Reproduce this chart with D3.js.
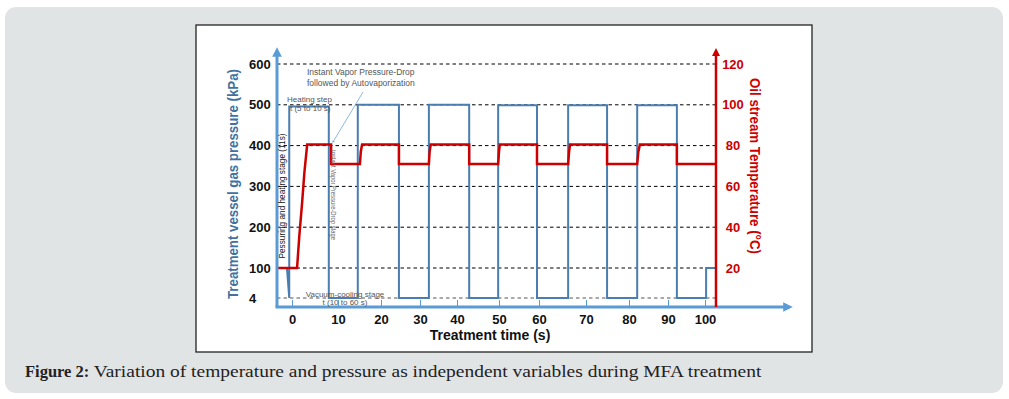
<!DOCTYPE html>
<html>
<head>
<meta charset="utf-8">
<script src="https://cdn.jsdelivr.net/npm/d3@7"></script>
<style>
  body { margin: 0; background: #fff; }
  text { font-family: "Liberation Sans", Arial, sans-serif; }
</style>
</head>
<body>
<div id="container"></div>
<script>
// Tick labels
const xTicks = [0, 10, 20, 30, 40, 50, 60, 70, 80, 90, 100];
const pTicks = [4, 100, 200, 300, 400, 500, 600];
const tTicks = [20, 40, 60, 80, 100, 120];

// Pressure (kPa) vs time (s)
const pressTime = [-3.3, -1.1, -0.6, -0.6, 8.0, 8.0, 14.6, 14.6, 24.6, 24.6, 32.4, 32.4, 42.9, 42.9,
    49.8, 49.8, 59.5, 59.5, 66.2, 66.2, 74.9, 74.9, 82.1, 82.1, 92.4, 92.4, 100.3, 100.3, 103.0];
const pressVal = [100, 100, 4, 496, 496, 4, 4, 500, 500, 4, 4, 500, 500, 4,
    4, 499, 499, 4, 4, 499, 499, 4, 4, 499, 499, 4, 4, 100, 100];

// Oil stream temperature (°C) vs time (s)
const tempTime = [-3.3, 1.1, 1.6, 2.2, 2.7, 3.3, 8.5, 8.5, 15.1, 15.3, 15.6, 24.6, 24.6,
    32.4, 32.6, 32.9, 42.9, 42.9, 49.8, 50.0, 50.2, 59.5, 59.5, 66.2, 66.4, 66.6, 74.9, 74.9,
    82.1, 82.4, 82.8, 92.4, 92.4, 103.0];
const tempVal = [20, 20, 36, 52, 67, 80.5, 80.5, 71, 71, 77, 80.5, 80.5, 71,
    71, 77, 80.5, 80.5, 71, 71, 77, 80.5, 80.5, 71, 71, 77, 80.5, 80.5, 71,
    71, 77, 80.5, 80.5, 71, 71];

const width = 1009, height = 399;
const blue = "#4a7db0", axisBlue = "#5b9bd5", red = "#cc0000";

const svg = d3.select("#container")
    .append("svg")
    .attr("width", width)
    .attr("height", height);

// Grey panel and chart frame
svg.append("rect")
    .attr("x", 5).attr("y", 7).attr("width", 998).attr("height", 386)
    .attr("rx", 11).attr("fill", "#e1e4e5");
svg.append("rect")
    .attr("x", 196).attr("y", 25).attr("width", 616).attr("height", 327)
    .attr("fill", "#fff").attr("stroke", "#222").attr("stroke-width", 1.3);

// Scales (the drawing's axes are not evenly spaced)
const x = d3.scaleLinear()
    .domain(xTicks)
    .range([292, 338, 381, 420, 457, 499, 539, 586, 629, 668, 705]);
const yP = d3.scaleLinear()
    .domain([4, 100, 600])
    .range([298, 268, 64]);
const yT = d3.scaleLinear()
    .domain([20, 120])
    .range([268, 64]);

const axL = 277, axR = 716, axB = 307, axT = 48;

// Arrow heads
const defs = svg.append("defs");
function arrow(id, color) {
    defs.append("marker")
        .attr("id", id)
        .attr("viewBox", "0 0 10 10")
        .attr("refX", 5).attr("refY", 5)
        .attr("markerWidth", 3.2).attr("markerHeight", 3.2)
        .attr("orient", "auto")
        .append("path")
        .attr("d", "M0,0 L10,5 L0,10 z")
        .attr("fill", color);
}
arrow("arrBlue", axisBlue);
arrow("arrRed", red);
arrow("arrThin", "#6fa8dc");

// Dashed grid lines
svg.append("g")
    .selectAll("line")
    .data(pTicks)
    .enter()
    .append("line")
    .attr("x1", axL).attr("x2", axR)
    .attr("y1", d => yP(d)).attr("y2", d => yP(d))
    .attr("stroke", d => d === 4 ? "#555" : "#000")
    .attr("stroke-width", 1)
    .attr("stroke-dasharray", "3.5,3");

// Pressure line
const pressData = pressTime.map((t, i) => ({ t: t, v: pressVal[i] }));
svg.append("path")
    .datum(pressData)
    .attr("fill", "none")
    .attr("stroke", blue)
    .attr("stroke-width", 2)
    .attr("d", d3.line().x(d => x(d.t)).y(d => yP(d.v)));

// Temperature line
const tempData = tempTime.map((t, i) => ({ t: t, v: tempVal[i] }));
svg.append("path")
    .datum(tempData)
    .attr("fill", "none")
    .attr("stroke", red)
    .attr("stroke-width", 2.5)
    .attr("d", d3.line().x(d => x(d.t)).y(d => yT(d.v)));

// Axis lines
svg.append("line")
    .attr("x1", axL).attr("y1", axB).attr("x2", axL).attr("y2", axT + 4)
    .attr("stroke", axisBlue).attr("stroke-width", 3)
    .attr("marker-end", "url(#arrBlue)");
svg.append("line")
    .attr("x1", axL - 1.5).attr("y1", axB).attr("x2", 788).attr("y2", axB)
    .attr("stroke", axisBlue).attr("stroke-width", 3)
    .attr("marker-end", "url(#arrBlue)");
svg.append("line")
    .attr("x1", axR).attr("y1", axB).attr("x2", axR).attr("y2", axT + 4)
    .attr("stroke", red).attr("stroke-width", 2.5)
    .attr("marker-end", "url(#arrRed)");

// X axis ticks and labels
const xAxis = svg.append("g")
    .attr("transform", `translate(0,${axB})`)
    .call(d3.axisBottom(x).tickValues(xTicks).tickSize(-7).tickPadding(8));
xAxis.select(".domain").remove();
xAxis.selectAll(".tick line").attr("stroke", axisBlue).attr("stroke-width", 1);
xAxis.selectAll(".tick text")
    .attr("fill", "#111")
    .style("font-family", "'Liberation Sans', Arial, sans-serif")
    .style("font-size", "13px")
    .style("font-weight", "bold");

// Left axis labels
const yAxisL = svg.append("g")
    .attr("transform", `translate(${axL},0)`)
    .call(d3.axisLeft(yP).tickValues(pTicks).tickSize(0));
yAxisL.select(".domain").remove();
yAxisL.selectAll(".tick text")
    .attr("x", 249 - axL)
    .attr("text-anchor", "start")
    .attr("fill", "#111")
    .style("font-family", "'Liberation Sans', Arial, sans-serif")
    .style("font-size", "13px")
    .style("font-weight", "bold");

// Right axis labels
const yAxisR = svg.append("g")
    .attr("transform", `translate(${axR},0)`)
    .call(d3.axisRight(yT).tickValues(tTicks).tickSize(0));
yAxisR.select(".domain").remove();
yAxisR.selectAll(".tick text")
    .attr("x", 733 - axR)
    .attr("text-anchor", "middle")
    .attr("fill", red)
    .style("font-family", "'Liberation Sans', Arial, sans-serif")
    .style("font-size", "13px")
    .style("font-weight", "bold");

// Axis titles
svg.append("text")
    .attr("transform", "translate(238,184) rotate(-90)")
    .attr("text-anchor", "middle")
    .attr("fill", "#41729f")
    .attr("font-size", 15).attr("font-weight", "bold")
    .attr("textLength", 230).attr("lengthAdjust", "spacingAndGlyphs")
    .text("Treatment vessel gas pressure (kPa)");
svg.append("text")
    .attr("transform", "translate(750,166) rotate(90)")
    .attr("text-anchor", "middle")
    .attr("fill", red)
    .attr("font-size", 15).attr("font-weight", "bold")
    .attr("textLength", 176).attr("lengthAdjust", "spacingAndGlyphs")
    .text("Oil stream Temperature (°C)");
svg.append("text")
    .attr("x", 490).attr("y", 340)
    .attr("text-anchor", "middle")
    .attr("fill", "#111")
    .attr("font-size", 14).attr("font-weight", "bold")
    .text("Treatment time (s)");

// Annotations
const note = "#555";
svg.append("text").attr("x", 307).attr("y", 75).attr("fill", note).attr("font-size", 8.5)
    .text("Instant Vapor Pressure-Drop");
svg.append("text").attr("x", 307).attr("y", 86).attr("fill", note).attr("font-size", 8.5)
    .text("followed by Autovaporization");
svg.append("line")
    .attr("x1", 363).attr("y1", 92).attr("x2", 333).attr("y2", 142)
    .attr("stroke", "#6fa8dc").attr("stroke-width", 0.8)
    .attr("marker-end", "url(#arrThin)");
svg.append("text").attr("x", 287).attr("y", 102).attr("fill", note).attr("font-size", 8)
    .text("Heating step");
svg.append("text").attr("x", 290).attr("y", 111).attr("fill", note).attr("font-size", 8)
    .text("t (5 to 10 s)");
svg.append("text")
    .attr("transform", "translate(285,196) rotate(-90)")
    .attr("text-anchor", "middle").attr("fill", "#111").attr("font-size", 9)
    .attr("textLength", 125).attr("lengthAdjust", "spacingAndGlyphs")
    .text("Pessuring and heating stage (11s)");
svg.append("text")
    .attr("transform", "translate(331,195) rotate(90)")
    .attr("text-anchor", "middle").attr("fill", "#666").attr("font-size", 6.5)
    .attr("textLength", 90).attr("lengthAdjust", "spacingAndGlyphs")
    .text("Instant Vapor Pressure-Drop stage");
svg.append("text").attr("x", 345).attr("y", 297).attr("text-anchor", "middle")
    .attr("fill", note).attr("font-size", 8).text("Vacuum-cooling stage");
svg.append("text").attr("x", 345).attr("y", 305).attr("text-anchor", "middle")
    .attr("fill", note).attr("font-size", 8).text("t (10 to 60 s)");

// Caption
const cap = svg.append("text")
    .attr("x", 25).attr("y", 377)
    .attr("fill", "#222")
    .style("font-family", "'Liberation Serif', 'DejaVu Serif', serif")
    .style("font-size", "16.5px");
cap.append("tspan").attr("font-weight", "bold").text("Figure 2:");
cap.append("tspan")
    .attr("textLength", 672).attr("lengthAdjust", "spacingAndGlyphs")
    .text(" Variation of temperature and pressure as independent variables during MFA treatment");
</script>
</body>
</html>
